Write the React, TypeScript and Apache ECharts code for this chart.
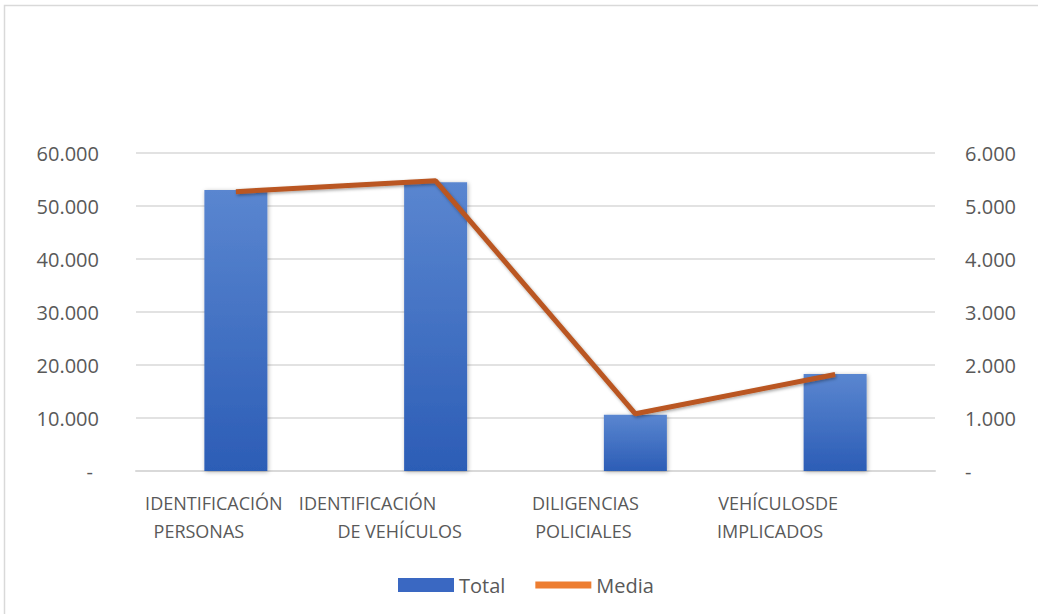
import React, { useEffect, useRef } from "react";
import * as echarts from "echarts";

const categories = [
  "IDENTIFICACIÓN\nPERSONAS",
  "IDENTIFICACIÓN\nDE VEHÍCULOS",
  "DILIGENCIAS\nPOLICIALES",
  "VEHÍCULOSDE\nIMPLICADOS",
];
const totalValues = [53000, 54500, 10600, 18300];
const mediaValues = [5270, 5475, 1080, 1820];
const leftTicks = { min: 0, max: 60000, interval: 10000 };
const rightTicks = { min: 0, max: 6000, interval: 1000 };

function fmt(v: number): string {
  if (v === 0) return "-";
  const s = Math.round(v).toString();
  return s.replace(/\B(?=(\d{3})+(?!\d))/g, ".");
}

const TEXT = "#595959";
const FONT = "'Open Sans', sans-serif";

export default function App() {
  const ref = useRef<HTMLDivElement>(null);
  useEffect(() => {
    if (!ref.current) return;
    const chart = echarts.init(ref.current, null, { renderer: "svg" });
    const linePad = [
      [44, 74],
      [136, 72],
      [100, 104],
      [114, 130],
    ];
    const rich: any = {};
    linePad.forEach((p, i) => {
      rich["a" + i] = { padding: [0, p[0], 0, 0], fontSize: 18, fontFamily: FONT, color: TEXT, lineHeight: 28 };
      rich["b" + i] = { padding: [0, p[1], 0, 0], fontSize: 18, fontFamily: FONT, color: TEXT, lineHeight: 28 };
    });
    chart.setOption({
      animation: false,
      backgroundColor: "#ffffff",
      graphic: [
        {
          type: "rect",
          shape: { x: 4.5, y: 5.5, width: 1060, height: 640 },
          style: { fill: "none", stroke: "#D9D9D9", lineWidth: 1.5 },
          silent: true,
        },
      ],
      grid: { left: 136, right: 103, top: 153, bottom: 143, containLabel: false },
      legend: {
        left: 393,
        top: 570,
        itemWidth: 56,
        itemHeight: 14,
        itemGap: 30,
        symbolKeepAspect: true,
        textStyle: { fontSize: 20, fontFamily: FONT, color: TEXT },
        data: [
          { name: "Total", icon: "rect", itemStyle: { color: "#3A68C2" } },
          { name: "Media", icon: "path://M0,0 L56,0 L56,7 L0,7 Z", itemStyle: { color: "#ED7D31" } },
        ],
      },
      xAxis: {
        type: "category",
        data: categories,
        axisLine: { show: true, lineStyle: { color: "#D9D9D9", width: 2 } },
        axisTick: { show: false },
        axisLabel: {
          interval: 0,
          margin: 18,
          color: TEXT,
          fontFamily: FONT,
          fontSize: 18,
          lineHeight: 28,
          formatter: (value: string, index: number) => {
            const parts = value.split("\n");
            return `{a${index}|${parts[0]}}\n{b${index}|${parts[1]}}`;
          },
          rich,
        },
      },
      yAxis: [
        {
          type: "value",
          min: leftTicks.min,
          max: leftTicks.max,
          interval: leftTicks.interval,
          axisLine: { show: false },
          axisTick: { show: false },
          splitLine: { lineStyle: { color: "#D9D9D9", width: 1.5 } },
          axisLabel: {
            margin: 37,
            color: TEXT,
            fontFamily: FONT,
            fontSize: 20,
            formatter: (v: number) => (v === 0 ? "{z|-}" : fmt(v)),
            rich: { z: { padding: [0, 6, 0, 0], fontSize: 20, fontFamily: FONT, color: TEXT } },
          },
        },
        {
          type: "value",
          min: rightTicks.min,
          max: rightTicks.max,
          interval: rightTicks.interval,
          axisLine: { show: false },
          axisTick: { show: false },
          splitLine: { show: false },
          axisLabel: {
            margin: 30,
            color: TEXT,
            fontFamily: FONT,
            fontSize: 20,
            formatter: (v: number) => fmt(v),
          },
        },
      ],
      series: [
        {
          name: "Total",
          type: "bar",
          data: totalValues,
          barWidth: 63,
          itemStyle: {
            color: new echarts.graphic.LinearGradient(0, 0, 0, 1, [
              { offset: 0, color: "#5A86D0" },
              { offset: 1, color: "#2C5DB6" },
            ]),
            shadowColor: "rgba(0,0,0,0.3)",
            shadowBlur: 4,
            shadowOffsetX: 1,
            shadowOffsetY: 1,
          },
          z: 2,
        },
        {
          name: "Media",
          type: "line",
          yAxisIndex: 1,
          data: mediaValues,
          symbol: "none",
          lineStyle: {
            color: "#BA5620",
            width: 5,
            shadowColor: "rgba(0,0,0,0.35)",
            shadowBlur: 3,
            shadowOffsetX: 1,
            shadowOffsetY: 1.5,
          },
          itemStyle: { color: "#ED7D31" },
          z: 3,
        },
      ],
    });
    return () => chart.dispose();
  }, []);
  return (
    <div
      ref={ref}
      style={{ position: "fixed", left: 0, top: 0, width: 1038, height: 614 }}
    />
  );
}
